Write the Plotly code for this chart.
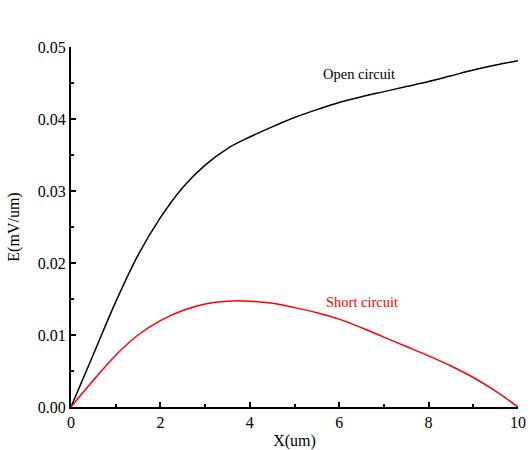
import plotly.graph_objects as go

x_open = [0, 0.5, 1, 1.5, 2, 2.5, 3, 3.5, 4, 4.5, 5, 5.5, 6, 6.5, 7, 7.5, 8, 8.5, 9, 9.5, 10]
y_open = [0, 0.0073, 0.0146, 0.0211, 0.0263, 0.0305, 0.0336, 0.0359, 0.0375, 0.0389, 0.0402, 0.0413, 0.0423, 0.0431, 0.0438, 0.0445, 0.0452, 0.0460, 0.0468, 0.0475, 0.0481]

x_short = [0, 0.5, 1, 1.5, 2, 2.5, 3, 3.5, 4, 4.5, 5, 5.5, 6, 6.5, 7, 7.5, 8, 8.5, 9, 9.5, 10]
y_short = [0, 0.0037, 0.0072, 0.0100, 0.0120, 0.0134, 0.0143, 0.0147, 0.0147, 0.0144, 0.0138, 0.0131, 0.0122, 0.0110, 0.0097, 0.0084, 0.0071, 0.0057, 0.0041, 0.0022, 0.0]

x_ticks = [0, 2, 4, 6, 8, 10]
y_ticks = [0.00, 0.01, 0.02, 0.03, 0.04, 0.05]

FONT = "Liberation Serif"

fig = go.Figure()
fig.add_trace(go.Scatter(x=x_open, y=y_open, mode="lines",
                         line=dict(color="black", width=1.5, shape="spline", smoothing=1),
                         showlegend=False))
fig.add_trace(go.Scatter(x=x_short, y=y_short, mode="lines",
                         line=dict(color="#ff0000", width=1.5, shape="spline", smoothing=1),
                         showlegend=False))

fig.add_annotation(x=6.44, y=0.0463, text="Open circuit", showarrow=False,
                   font=dict(family=FONT, size=14.5, color="black"))
fig.add_annotation(x=6.51, y=0.01465, text="Short circuit", showarrow=False,
                   font=dict(family=FONT, size=14.5, color="#ff0000"))

axis_common = dict(showline=True, linecolor="black", linewidth=2, ticks="inside",
                   ticklen=5, tickwidth=2, tickcolor="black", showgrid=False, zeroline=False,
                   tickfont=dict(family=FONT, size=16, color="black"),
                   mirror=False, automargin=False)

fig.update_xaxes(range=[0, 10], tickvals=x_ticks, ticktext=[str(v) for v in x_ticks],
                 minor=dict(dtick=1, tick0=0, ticks="inside", ticklen=3, tickwidth=2, tickcolor="black", showgrid=False),
                 title=dict(text="X(um)", font=dict(family=FONT, size=16, color="black"), standoff=5),
                 **axis_common)
fig.update_yaxes(range=[0, 0.05], tickvals=y_ticks, ticktext=["%.2f" % v for v in y_ticks],
                 minor=dict(dtick=0.005, tick0=0, ticks="inside", ticklen=3, tickwidth=2, tickcolor="black", showgrid=False),
                 title=dict(text="E(mV/um)", font=dict(family=FONT, size=16, color="black"), standoff=14),
                 **axis_common)

fig.update_layout(width=530, height=450, margin=dict(l=71, r=12, t=47, b=43),
                  plot_bgcolor="white", paper_bgcolor="white",
                  font=dict(family=FONT, color="black"))

fig.write_html("out.html", config={"displayModeBar": False},
               post_script="document.body.style.margin='0';document.body.style.padding='0';")
